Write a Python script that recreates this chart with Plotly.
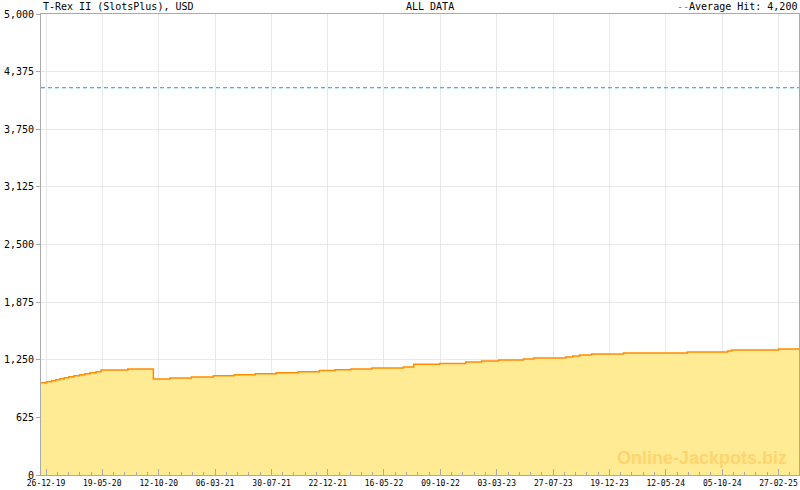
import plotly.graph_objects as go
import pandas as pd

dates = ["2019-12-13", "2019-12-27", "2020-01-09", "2020-01-20", "2020-01-31", "2020-02-11",
         "2020-02-23", "2020-03-07", "2020-03-22", "2020-04-04", "2020-04-18", "2020-05-03",
         "2020-05-16", "2020-07-24", "2020-09-28", "2020-11-10", "2021-01-04", "2021-03-02",
         "2021-04-25", "2021-06-18", "2021-08-11", "2021-10-07", "2021-11-30", "2022-01-10",
         "2022-02-20", "2022-04-15", "2022-07-05", "2022-08-01", "2022-10-07", "2022-12-13",
         "2023-01-23", "2023-03-08", "2023-05-11", "2023-06-06", "2023-08-28", "2023-09-15",
         "2023-10-03", "2023-11-03", "2024-01-24", "2024-07-07", "2024-10-19", "2024-10-29",
         "2025-02-27", "2025-04-21"]
values = [1000, 1011, 1022, 1033, 1043, 1054,
          1065, 1076, 1087, 1098, 1109, 1120,
          1138, 1149, 1040, 1051, 1062, 1076,
          1087, 1098, 1109, 1120, 1134, 1141,
          1149, 1160, 1171, 1202, 1210, 1225,
          1236, 1247, 1258, 1268, 1279, 1290,
          1301, 1312, 1323, 1334, 1345, 1355,
          1366, 1366]

average_hit = 4200
y_ticks = [0, 625, 1250, 1875, 2500, 3125, 3750, 4375, 5000]
y_tick_labels = ["0", "625", "1,250", "1,875", "2,500", "3,125", "3,750", "4,375", "5,000"]

x_tick_dates = ["2019-12-26", "2020-05-19", "2020-10-12", "2021-03-06", "2021-07-30",
                "2021-12-22", "2022-05-16", "2022-10-09", "2023-03-03", "2023-07-27",
                "2023-12-19", "2024-05-12", "2024-10-05", "2025-02-27"]
x_tick_labels = ["26-12-19", "19-05-20", "12-10-20", "06-03-21", "30-07-21",
                 "22-12-21", "16-05-22", "09-10-22", "03-03-23", "27-07-23",
                 "19-12-23", "12-05-24", "05-10-24", "27-02-25"]

title_left = "T-Rex II (SlotsPlus), USD"
title_mid = "ALL DATA"
legend_text = "Average Hit: 4,200"
watermark = "Online-Jackpots.biz"

mono = "DejaVu Sans Mono"
blue = "#089fdc"

# minor ticks: 5 subdivisions between labelled ticks (and one interval before / after)
maj = pd.to_datetime(x_tick_dates)
step = (maj[-1] - maj[0]) / (len(maj) - 1)
minor_vals = []
for k in range(-1, len(maj) + 1):
    base = maj[0] + step * k
    for j in range(1, 5):
        minor_vals.append((base + step * j / 5).strftime("%Y-%m-%d %H:%M"))

fig = go.Figure()
fig.add_trace(go.Scatter(
    x=dates, y=values, mode="lines", line=dict(shape="hv", color="#ff8c00", width=1.5),
    fill="tozeroy", fillcolor="#ffeb94", hoverinfo="skip", showlegend=False))

fig.add_shape(type="line", xref="paper", x0=0, x1=1, yref="y", y0=average_hit, y1=average_hit,
              line=dict(color=blue, width=1.2, dash="4px,3px"))

W, H = 800, 490
L, R, T, B = 41, 1, 14, 15
pw = W - L - R

fig.update_layout(
    width=W, height=H, margin=dict(l=L, r=R, t=T, b=B, autoexpand=False),
    paper_bgcolor="white", plot_bgcolor="white",
    font=dict(family=mono, size=10, color="#000"),
    xaxis=dict(
        type="date", range=["2019-12-13", "2025-04-21"],
        tickvals=x_tick_dates, ticktext=x_tick_labels,
        ticks="inside", ticklen=6, tickcolor="#aaaaaa",
        showgrid=True, gridcolor="#e8e8e8", gridwidth=1,
        showline=True, linecolor="#aaaaaa", linewidth=1, mirror=True,
        tickfont=dict(family=mono, size=8), ticklabelstandoff=0,
        minor=dict(tickvals=minor_vals, ticks="inside", ticklen=3,
                   tickcolor="#aaaaaa", showgrid=False),
        zeroline=False, fixedrange=True, automargin=False,
    ),
    yaxis=dict(
        range=[0, 5000], tickvals=y_ticks, ticktext=y_tick_labels,
        ticks="outside", ticklen=4, tickcolor="#aaaaaa",
        showgrid=True, gridcolor="#e8e8e8", gridwidth=1,
        showline=True, linecolor="#aaaaaa", linewidth=1, mirror=True,
        tickfont=dict(family=mono, size=10), zeroline=False, fixedrange=True,
        automargin=False,
    ),
)

fig.add_annotation(text=title_left, xref="paper", yref="paper", x=0, y=1, yshift=0,
                   xanchor="left", yanchor="bottom", showarrow=False,
                   font=dict(family=mono, size=10, color="#000"))
fig.add_annotation(text=title_mid, xref="paper", yref="paper", x=(430 - L) / pw, y=1, yshift=0,
                   xanchor="center", yanchor="bottom", showarrow=False,
                   font=dict(family=mono, size=10, color="#000"))
fig.add_annotation(text="<span style='color:" + blue + "'>--</span>" + legend_text,
                   xref="paper", yref="paper", x=1, y=1, yshift=0,
                   xanchor="right", yanchor="bottom", showarrow=False,
                   font=dict(family=mono, size=10, color="#000"))
fig.add_annotation(text="<b>" + watermark + "</b>", xref="paper", yref="paper",
                   x=(789 - L) / pw, y=(475 - 458) / (H - T - B),
                   xanchor="right", yanchor="middle", showarrow=False,
                   font=dict(family="Liberation Sans", size=18, color="#ffd46e"))

fig.write_html("out.html", config={"displayModeBar": False},
               post_script="document.body.style.margin='0';document.body.style.overflow='hidden';")
